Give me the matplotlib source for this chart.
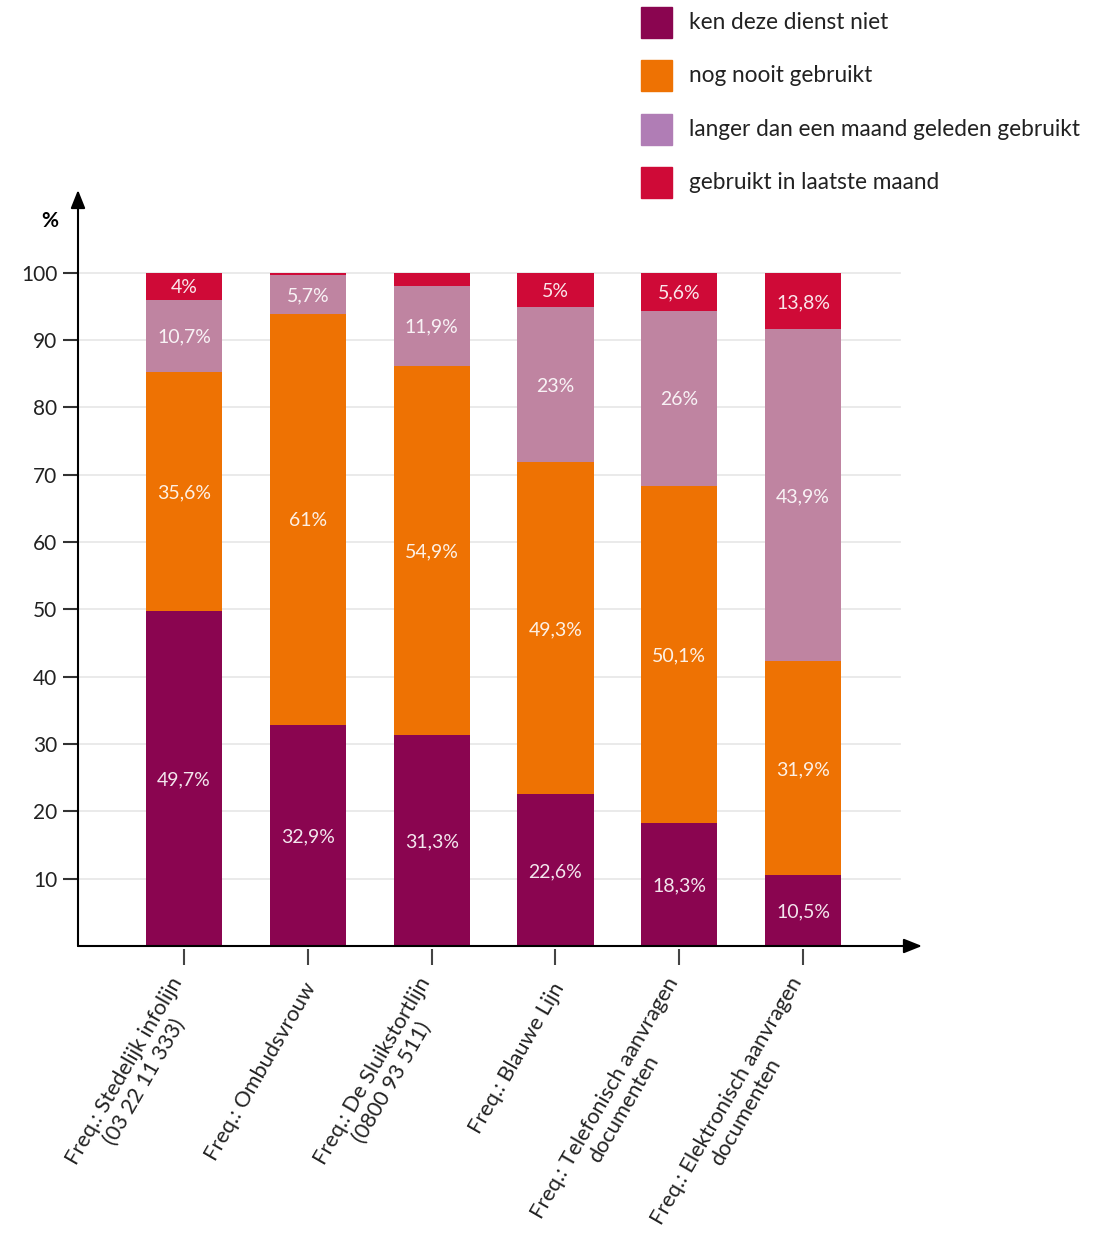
import matplotlib.pyplot as plt
from matplotlib.patches import Rectangle

plt.rcParams['font.family'] = ['Lato', 'DejaVu Sans']

# diensten (x-as)
categories = [
    'Freq.: Stedelijk infolijn\n(03 22 11 333)',
    'Freq.: Ombudsvrouw',
    'Freq.: De Sluikstortlijn\n(0800 93 511)',
    'Freq.: Blauwe Lijn',
    'Freq.: Telefonisch aanvragen\ndocumenten',
    'Freq.: Elektronisch aanvragen\ndocumenten',
]

# percentages zoals vermeld in de labels
ken_niet = [49.7, 32.9, 31.3, 22.6, 18.3, 10.5]
nooit = [35.6, 61.0, 54.9, 49.3, 50.1, 31.9]
langer = [10.7, 5.7, 11.9, 23.0, 26.0, 43.9]
laatste = [4.0, 0.4, 1.9, 5.0, 5.6, 13.8]
# in de originele grafiek is het paarse segment van de laatste balk hoger getekend (~49,2)
langer_hoogte = [10.7, 5.7, 11.9, 23.0, 26.0, 49.2]

series_names = ['ken deze dienst niet', 'nog nooit gebruikt',
                'langer dan een maand geleden gebruikt', 'gebruikt in laatste maand']
bar_colors = ['#8A0550', '#EE7203', '#BF84A1', '#CF0A37']
legend_colors = ['#8A0550', '#EE7203', '#B07DB5', '#CF0A37']

yticks = [10, 20, 30, 40, 50, 60, 70, 80, 90, 100]

fig = plt.figure(figsize=(11.05, 12.39), dpi=100)
W, H = 1105, 1239
ax = fig.add_axes([78 / W, (H - 946) / H, (922 - 78) / W, (946 - 190) / H])

x = list(range(len(categories)))
ax.set_xlim(-0.856, 5.96)
ax.set_ylim(0, 112.3)

# rasterlijnen
for t in yticks:
    ax.plot([-0.856, 5.78], [t, t], color='#E6E6E6', lw=1.2, zorder=0)

heights = [ken_niet, nooit, langer_hoogte, laatste]
labels = [ken_niet, nooit, langer, laatste]
bottom = [0] * len(x)
for hs, vals, col in zip(heights, labels, bar_colors):
    # balken worden afgekapt op 100
    hs = [min(h, 100 - b) for h, b in zip(hs, bottom)]
    ax.bar(x, hs, bottom=bottom, width=0.615, color=col, zorder=2)
    for i, v in enumerate(vals):
        if v >= 3:
            lbl = ('%g' % v).replace('.', ',') + '%'
            ax.text(i, bottom[i] + hs[i] / 2, lbl, ha='center', va='center_baseline',
                    color='white', alpha=0.9, fontsize=14, zorder=3)
    bottom = [b + h for b, h in zip(bottom, hs)]

# assen met pijlen
for s in ax.spines.values():
    s.set_visible(False)
for end in [(0, 1), (1, 0)]:
    ax.annotate('', xy=end, xytext=(0, 0), xycoords='axes fraction',
                arrowprops=dict(arrowstyle='-|>,head_length=0.55,head_width=0.22',
                                color='black', lw=1.5, mutation_scale=20,
                                shrinkA=0, shrinkB=0))

ax.set_yticks(yticks)
ax.set_yticklabels([str(t) for t in yticks], fontsize=15, color='#222222')
ax.tick_params(axis='y', length=11, width=1.5, direction='out', pad=4, color='#333333')
ax.set_xticks([])

# x-ticks los van de as + gedraaide labels
ax.vlines(x, -0.45, -2.8, color='#444444', lw=1.5, clip_on=False)
for i, c in enumerate(categories):
    ax.text(i + 0.03, -5.7, c, rotation=60, rotation_mode='anchor', ha='right',
            va='center', multialignment='center', fontsize=15.7, color='#222222',
            linespacing=1.15)

fig.text(50 / W, 1 - 221 / H, '%', fontsize=15, fontweight='bold', ha='center', va='center')

# legenda
for k, (name, col) in enumerate(zip(series_names, legend_colors)):
    top = 7 + k * 53.3
    fig.patches.append(Rectangle((641 / W, 1 - (top + 31) / H), 31 / W, 31 / H,
                                 transform=fig.transFigure, color=col))
    fig.text(689 / W, 1 - (top + 15.5) / H, name, fontsize=16.3, va='center',
             ha='left', color='#222222')

fig.savefig('out.png', dpi=100)
